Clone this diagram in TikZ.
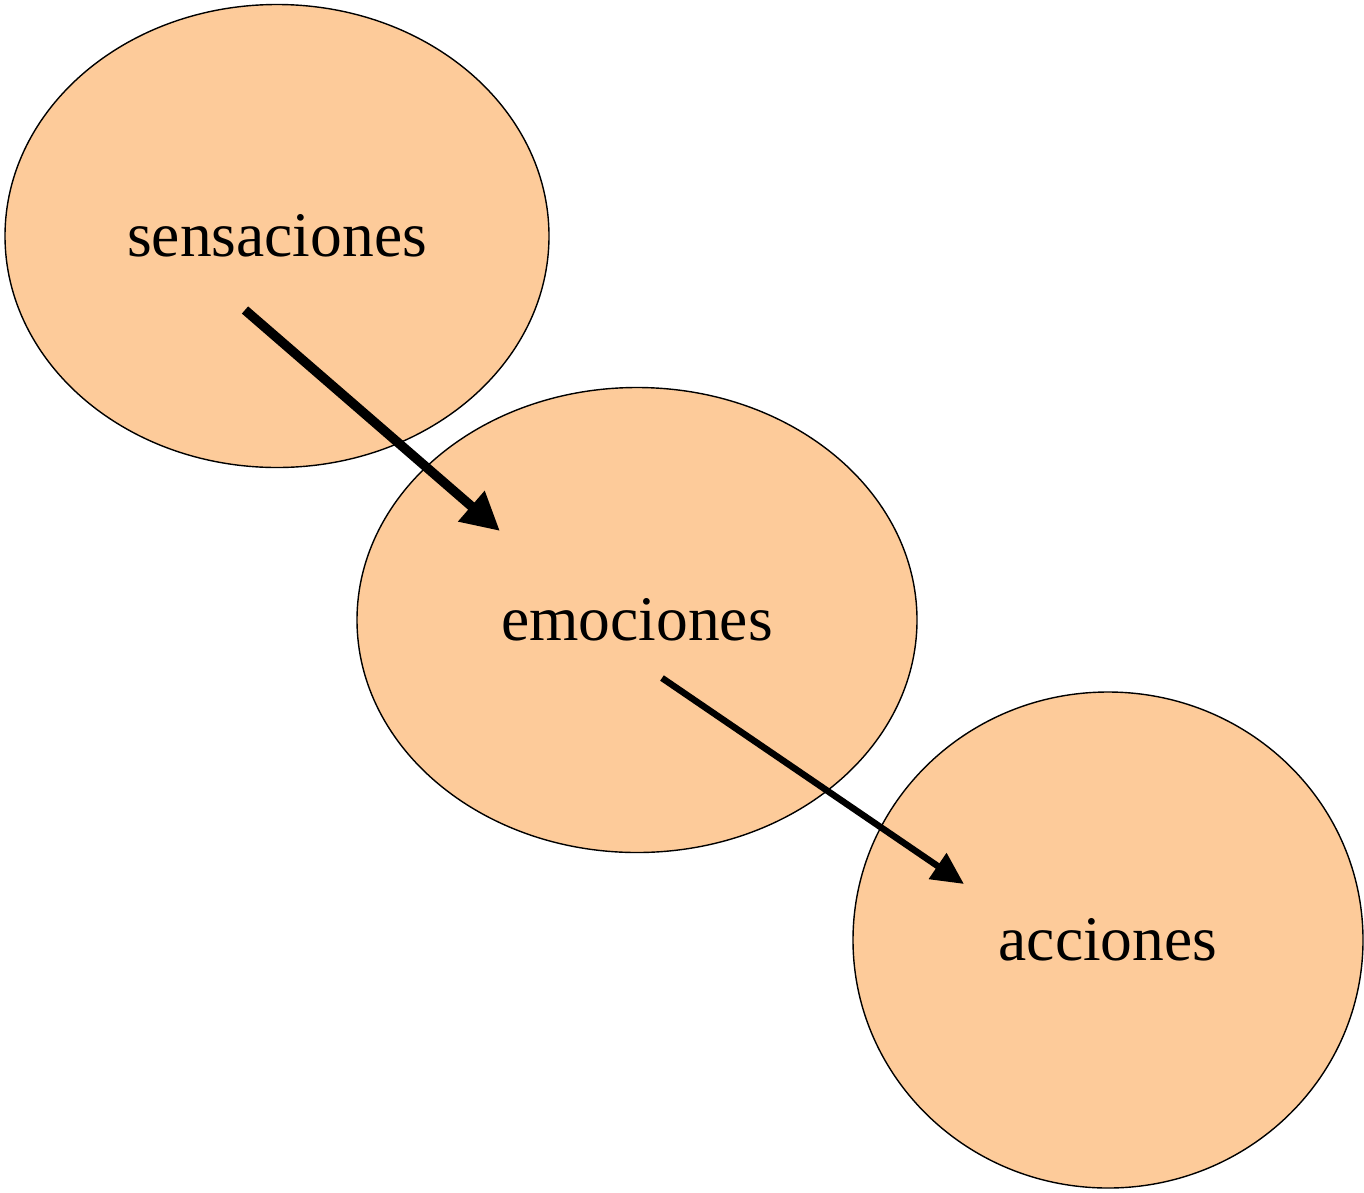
\documentclass[tikz,border=0pt]{standalone}
\usepackage{fontspec}
\setmainfont{Liberation Serif}
\usepackage{tikz}
\usetikzlibrary{shapes.geometric}
\usetikzlibrary{arrows.meta}
\definecolor{peach}{RGB}{253,203,154}

\begin{document}
\begin{tikzpicture}[x=1pt, y=-1pt, blob/.style={ellipse, draw=black, fill=peach, line width=1.4pt, inner sep=0pt, font=\fontsize{63.5}{76}\selectfont}, bigarrow/.style={-{Triangle[length=38pt,width=38pt]}, line width=9.5pt}, smallarrow/.style={-{Triangle[length=32pt,width=30pt]}, line width=6.5pt}]
    \useasboundingbox (0,0) rectangle (1364,1192);

    %Nodes
    \node[blob, minimum width=544pt, minimum height=463pt](sens) at (277,236){sensaciones};
    \node[blob, minimum width=560pt, minimum height=465pt](emoc) at (637,620){emociones};
    \node[blob, minimum width=510pt, minimum height=496pt](acc) at (1108,940){acciones};
    \coordinate (sens_start) at (245,310);
    \coordinate (sens_end) at (500,531);
    \coordinate (emoc_start) at (662,678);
    \coordinate (emoc_end) at (964,884);

    %Lines
    \draw[bigarrow] (sens_start) -- (sens_end);
    \draw[smallarrow] (emoc_start) -- (emoc_end);

\end{tikzpicture}
\end{document}
